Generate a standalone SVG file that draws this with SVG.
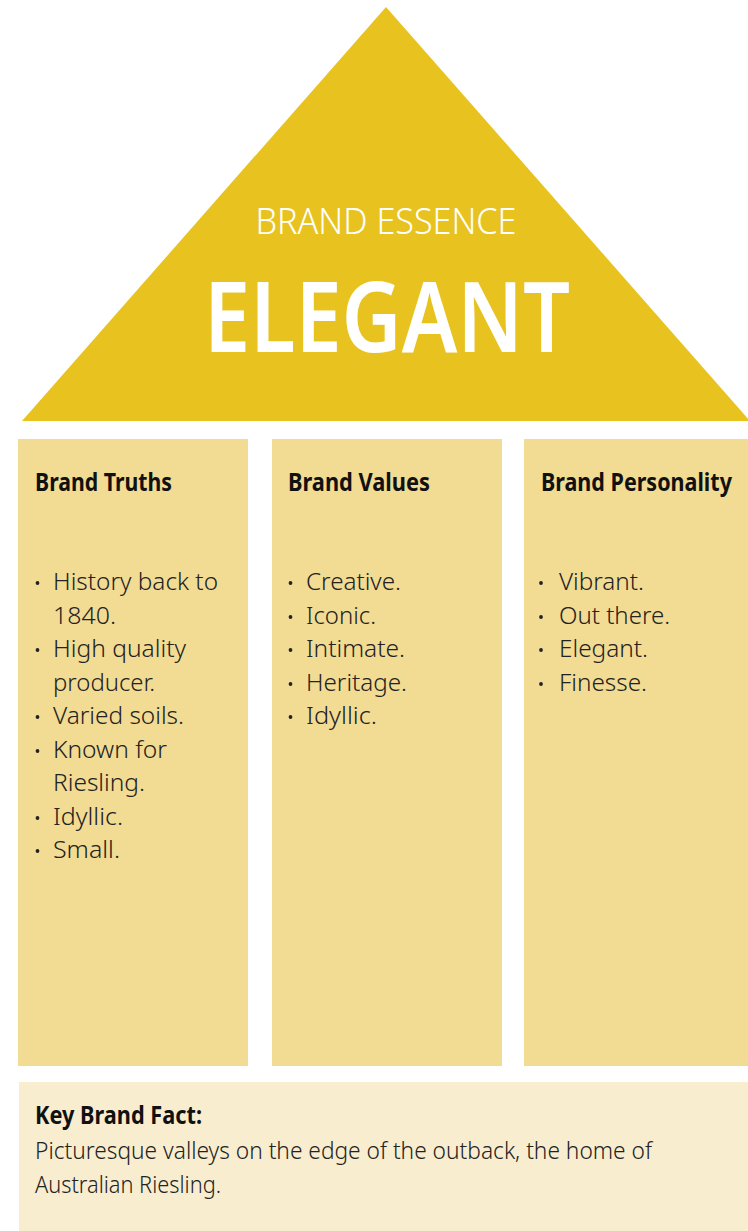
<svg xmlns="http://www.w3.org/2000/svg" width="748" height="1231" viewBox="0 0 748 1231">
<style>
.hdr{font-family:"Noto Sans","Open Sans",sans-serif;font-weight:700;font-size:25px;fill:#111;}
.itm{font-family:"Noto Sans","Open Sans",sans-serif;font-weight:300;font-size:24px;fill:#222;}
.bul{fill:#222;}
.col{fill:#F2DB93;}
</style>
<rect width="748" height="1231" fill="#ffffff"/>
<g id="essence">
<polygon points="22,421 386,7 750,421" fill="#E8C31F"/>
<text x="386" y="234" text-anchor="middle" font-family="Noto Sans, sans-serif" font-weight="300" font-size="37" fill="#ffffff" textLength="261" lengthAdjust="spacingAndGlyphs">BRAND ESSENCE</text>
<text x="387" y="352" text-anchor="middle" font-family="Noto Sans, sans-serif" font-weight="600" font-size="98" fill="#ffffff" textLength="366" lengthAdjust="spacingAndGlyphs">ELEGANT</text>
</g>
<g id="truths">
<rect class="col" x="18" y="439" width="230" height="627"/>
<text class="hdr" x="35" y="491" textLength="137" lengthAdjust="spacingAndGlyphs">Brand Truths</text>
<circle class="bul" cx="37.5" cy="583" r="1.9"/>
<text class="itm" x="53" y="590" textLength="165" lengthAdjust="spacingAndGlyphs">History back to</text>
<text class="itm" x="53" y="624" textLength="63" lengthAdjust="spacingAndGlyphs">1840.</text>
<circle class="bul" cx="37.5" cy="650" r="1.9"/>
<text class="itm" x="53" y="657" textLength="133" lengthAdjust="spacingAndGlyphs">High quality</text>
<text class="itm" x="53" y="691" textLength="102" lengthAdjust="spacingAndGlyphs">producer.</text>
<circle class="bul" cx="37.5" cy="717" r="1.9"/>
<text class="itm" x="53" y="724" textLength="131" lengthAdjust="spacingAndGlyphs">Varied soils.</text>
<circle class="bul" cx="37.5" cy="751" r="1.9"/>
<text class="itm" x="53" y="758" textLength="114" lengthAdjust="spacingAndGlyphs">Known for</text>
<text class="itm" x="53" y="791" textLength="92" lengthAdjust="spacingAndGlyphs">Riesling.</text>
<circle class="bul" cx="37.5" cy="818" r="1.9"/>
<text class="itm" x="53" y="825" textLength="70" lengthAdjust="spacingAndGlyphs">Idyllic.</text>
<circle class="bul" cx="37.5" cy="851" r="1.9"/>
<text class="itm" x="53" y="858" textLength="67" lengthAdjust="spacingAndGlyphs">Small.</text>
</g>
<g id="values">
<rect class="col" x="272" y="439" width="230" height="627"/>
<text class="hdr" x="288" y="491" textLength="142" lengthAdjust="spacingAndGlyphs">Brand Values</text>
<circle class="bul" cx="290.5" cy="583" r="1.9"/>
<text class="itm" x="306" y="590" textLength="95" lengthAdjust="spacingAndGlyphs">Creative.</text>
<circle class="bul" cx="290.5" cy="617" r="1.9"/>
<text class="itm" x="306" y="624" textLength="70" lengthAdjust="spacingAndGlyphs">Iconic.</text>
<circle class="bul" cx="290.5" cy="650" r="1.9"/>
<text class="itm" x="306" y="657" textLength="99" lengthAdjust="spacingAndGlyphs">Intimate.</text>
<circle class="bul" cx="290.5" cy="684" r="1.9"/>
<text class="itm" x="306" y="691" textLength="101" lengthAdjust="spacingAndGlyphs">Heritage.</text>
<circle class="bul" cx="290.5" cy="717" r="1.9"/>
<text class="itm" x="306" y="724" textLength="71" lengthAdjust="spacingAndGlyphs">Idyllic.</text>
</g>
<g id="personality">
<rect class="col" x="524" y="439" width="224" height="627"/>
<text class="hdr" transform="translate(541,491) scale(0.86,1)" x="0" y="0" textLength="222" lengthAdjust="spacingAndGlyphs">Brand Personality</text>
<circle class="bul" cx="541" cy="583" r="1.9"/>
<text class="itm" x="559" y="590" textLength="85" lengthAdjust="spacingAndGlyphs">Vibrant.</text>
<circle class="bul" cx="541" cy="617" r="1.9"/>
<text class="itm" x="559" y="624" textLength="111" lengthAdjust="spacingAndGlyphs">Out there.</text>
<circle class="bul" cx="541" cy="650" r="1.9"/>
<text class="itm" x="559" y="657" textLength="89" lengthAdjust="spacingAndGlyphs">Elegant.</text>
<circle class="bul" cx="541" cy="684" r="1.9"/>
<text class="itm" x="559" y="691" textLength="88" lengthAdjust="spacingAndGlyphs">Finesse.</text>
</g>
<g id="keyfact">
<rect x="19" y="1082" width="729" height="149" fill="#F8EDCF"/>
<text class="hdr" x="35" y="1124" textLength="167" lengthAdjust="spacingAndGlyphs">Key Brand Fact:</text>
<text class="itm" x="35" y="1159" textLength="617" lengthAdjust="spacingAndGlyphs">Picturesque valleys on the edge of the outback, the home of</text>
<text class="itm" x="35" y="1193" textLength="186" lengthAdjust="spacingAndGlyphs">Australian Riesling.</text>
</g>
<g id="connectors"></g>
</svg>
